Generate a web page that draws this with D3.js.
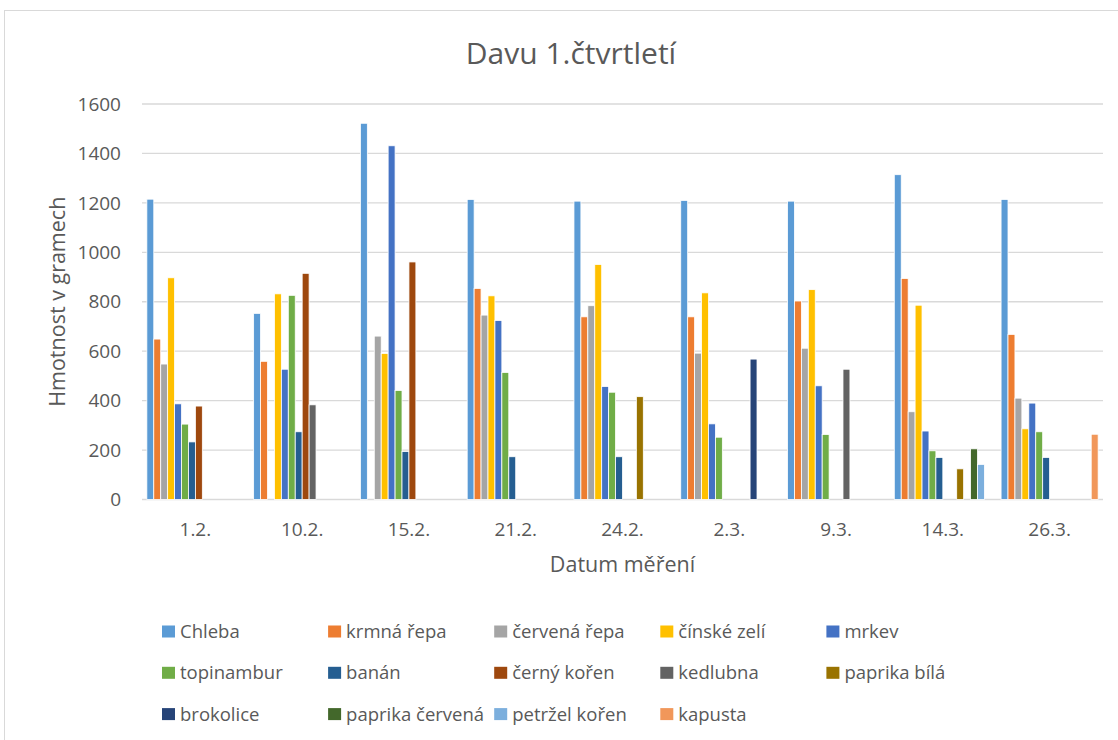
<!DOCTYPE html>
<html>
<head>
<meta charset="utf-8">
<script src="https://cdn.jsdelivr.net/npm/d3@7"></script>
<style>
  body { margin: 0; background: #fff; }
  text { font-family: "Open Sans", sans-serif; fill: #595959; }
</style>
</head>
<body>
<script>
var categories = ['1.2.', '10.2.', '15.2.', '21.2.', '24.2.', '2.3.', '9.3.', '14.3.', '26.3.'];

var seriesNames = ['Chleba', 'krmná řepa', 'červená řepa', 'čínské zelí', 'mrkev',
  'topinambur', 'banán', 'černý kořen', 'kedlubna', 'paprika bílá',
  'brokolice', 'paprika červená', 'petržel kořen', 'kapusta'];

var seriesColors = ['#5B9BD5', '#ED7D31', '#A5A5A5', '#FFC000', '#4472C4',
  '#70AD47', '#255E91', '#9E480E', '#636363', '#997300',
  '#264478', '#43682B', '#7CAFDD', '#F1975A'];

// one array per series, one value per date (null = nothing measured)
var chleba         = [1215, 753, 1522, 1214, 1207, 1210, 1207, 1314, 1214];
var krmnaRepa      = [649, 559, null, 854, 739, 739, 803, 894, 668];
var cervenaRepa    = [548, null, 661, 746, 784, 592, 612, 355, 410];
var cinskeZeli     = [897, 832, 591, 824, 951, 836, 849, 786, 286];
var mrkev          = [387, 527, 1431, 724, 457, 306, 460, 277, 390];
var topinambur     = [305, 826, 441, 514, 434, 252, 263, 197, 274];
var banan          = [233, 274, 194, 173, 173, null, null, 170, 170];
var cernyKoren     = [378, 915, 961, null, null, null, null, null, null];
var kedlubna       = [null, 383, null, null, null, null, 527, null, null];
var paprikaBila    = [null, null, null, null, 416, null, null, 124, null];
var brokolice      = [null, null, null, null, null, 568, null, null, null];
var paprikaCervena = [null, null, null, null, null, null, null, 205, null];
var petrzelKoren   = [null, null, null, null, null, null, null, 142, null];
var kapusta        = [null, null, null, null, null, null, null, null, 264];

var seriesValues = [chleba, krmnaRepa, cervenaRepa, cinskeZeli, mrkev, topinambur, banan,
  cernyKoren, kedlubna, paprikaBila, brokolice, paprikaCervena, petrzelKoren, kapusta];

var yTicks = [0, 200, 400, 600, 800, 1000, 1200, 1400, 1600];

var width = 1118, height = 740;
var plot = {left: 142, right: 1103, top: 104, bottom: 499.5};

var svg = d3.select('body').append('svg').attr('width', width).attr('height', height);

// chart frame
svg.append('rect')
  .attr('x', 4.5).attr('y', 10.5)
  .attr('width', 1300).attr('height', 900)
  .attr('fill', 'none').attr('stroke', '#d9d9d9').attr('stroke-width', 1);

var x0 = d3.scaleBand().domain(categories).range([plot.left, plot.right]).padding(0);
var x1 = d3.scaleBand().domain(d3.range(seriesNames.length))
  .range([0, x0.bandwidth()]).paddingInner(0).paddingOuter(0.7);
var y = d3.scaleLinear().domain([0, 1600]).range([plot.bottom, plot.top]);

// gridlines
svg.append('g').selectAll('line')
  .data(yTicks)
  .enter().append('line')
    .attr('x1', plot.left).attr('x2', plot.right)
    .attr('y1', function(d){ return y(d); })
    .attr('y2', function(d){ return y(d); })
    .attr('stroke', '#d9d9d9').attr('stroke-width', 1.3);

// y tick labels
svg.append('g').selectAll('text')
  .data(yTicks)
  .enter().append('text')
    .attr('x', 121)
    .attr('y', function(d){ return y(d); })
    .attr('dy', '0.35em')
    .attr('text-anchor', 'end')
    .style('font-size', '19px')
    .text(function(d){ return d; });

// bars
var flat = [];
seriesValues.forEach(function(vals, s){
  vals.forEach(function(v, c){
    if (v != null) flat.push({s: s, c: c, v: v});
  });
});

svg.append('g').selectAll('rect')
  .data(flat)
  .enter().append('rect')
    .attr('x', function(d){ return x0(categories[d.c]) + x1(d.s); })
    .attr('y', function(d){ return y(d.v); })
    .attr('width', x1.bandwidth())
    .attr('height', function(d){ return y(0) - y(d.v); })
    .attr('fill', function(d){ return seriesColors[d.s]; })
    .attr('stroke', '#fff').attr('stroke-width', 0.8);

// x category labels
svg.append('g').selectAll('text')
  .data(categories)
  .enter().append('text')
    .attr('x', function(d){ return x0(d) + x0.bandwidth() / 2; })
    .attr('y', 536)
    .attr('text-anchor', 'middle')
    .style('font-size', '19px')
    .text(function(d){ return d; });

// titles
svg.append('text')
  .attr('x', 571).attr('y', 64)
  .attr('text-anchor', 'middle')
  .style('font-size', '30px')
  .text('Davu 1.čtvrtletí');

svg.append('text')
  .attr('x', (plot.left + plot.right) / 2).attr('y', 572)
  .attr('text-anchor', 'middle')
  .style('font-size', '21.5px')
  .text('Datum měření');

svg.append('text')
  .attr('transform', 'translate(65,' + ((plot.top + plot.bottom) / 2) + ') rotate(-90)')
  .attr('text-anchor', 'middle')
  .style('font-size', '21.5px')
  .text('Hmotnost v gramech');

// legend
var legend = svg.append('g').selectAll('g')
  .data(seriesNames)
  .enter().append('g')
    .attr('transform', function(d, i){
      return 'translate(' + (162 + (i % 5) * 166.1) + ',' + (631.5 + Math.floor(i / 5) * 41.3) + ')';
    });

legend.append('rect')
  .attr('x', 0).attr('y', -6)
  .attr('width', 13).attr('height', 12)
  .attr('fill', function(d, i){ return seriesColors[i]; });

legend.append('text')
  .attr('x', 18).attr('dy', '0.35em')
  .style('font-size', '18.5px')
  .text(function(d){ return d; });
</script>
</body>
</html>
